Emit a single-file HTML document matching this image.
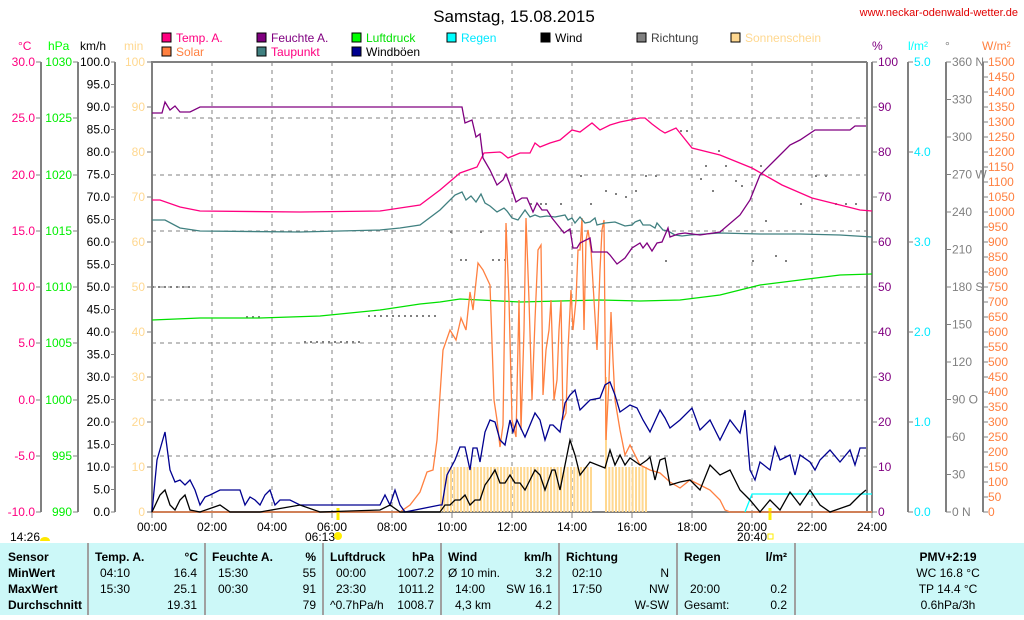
<!DOCTYPE html>
<html><head><meta charset="utf-8"><style>
body{margin:0;background:#fff;width:1024px;height:615px;overflow:hidden;font-family:"Liberation Sans",sans-serif}
svg text{font-family:"Liberation Sans",sans-serif}
</style></head><body>
<svg width="1024" height="615" xmlns="http://www.w3.org/2000/svg" font-size="11">
<text x="514" y="22" font-size="17" text-anchor="middle">Samstag, 15.08.2015</text>
<text x="1018" y="16" font-size="11" fill="#e00000" text-anchor="end">www.neckar-odenwald-wetter.de</text>
<g font-size="12">
<rect x="162" y="33" width="9" height="9" fill="#ff0080" stroke="#000"/><text x="176" y="42" fill="#ff0080">Temp. A.</text>
<rect x="257" y="33" width="9" height="9" fill="#800080" stroke="#000"/><text x="271" y="42" fill="#800080">Feuchte A.</text>
<rect x="352" y="33" width="9" height="9" fill="#00ff00" stroke="#000"/><text x="366" y="42" fill="#00e000">Luftdruck</text>
<rect x="447" y="33" width="9" height="9" fill="#00ffff" stroke="#000"/><text x="461" y="42" fill="#00e8ff">Regen</text>
<rect x="541" y="33" width="9" height="9" fill="#000" stroke="#000"/><text x="555" y="42">Wind</text>
<rect x="637" y="33" width="9" height="9" fill="#808080" stroke="#000"/><text x="651" y="42" fill="#404040">Richtung</text>
<rect x="731" y="33" width="9" height="9" fill="#ffd890" stroke="#000"/><text x="745" y="42" fill="#ffd890">Sonnenschein</text>
<rect x="162" y="47" width="9" height="9" fill="#ff8040" stroke="#000"/><text x="176" y="56" fill="#ff8040">Solar</text>
<rect x="257" y="47" width="9" height="9" fill="#408080" stroke="#000"/><text x="271" y="56" fill="#ff0080">Taupunkt</text>
<rect x="352" y="47" width="9" height="9" fill="#000090" stroke="#000"/><text x="366" y="56">Windböen</text>
</g>
<g font-size="12">
<text x="18" y="50" fill="#ff0080">°C</text>
<text x="48" y="50" fill="#00ff00">hPa</text>
<text x="80" y="50">km/h</text>
<text x="124" y="50" fill="#ffd890">min</text>
<text x="872" y="50" fill="#800080">%</text>
<text x="908" y="50" fill="#00ffff">l/m²</text>
<text x="945" y="50" fill="#808080">°</text>
<text x="982" y="50" fill="#ff8040">W/m²</text>
</g>
<g stroke="#808080" stroke-dasharray="4,4" stroke-width="1">
<line x1="152" y1="118" x2="870" y2="118"/><line x1="152" y1="175" x2="870" y2="175"/><line x1="152" y1="231" x2="870" y2="231"/><line x1="152" y1="287" x2="870" y2="287"/><line x1="152" y1="343" x2="870" y2="343"/><line x1="152" y1="400" x2="870" y2="400"/><line x1="152" y1="456" x2="870" y2="456"/>
<line x1="212" y1="62" x2="212" y2="512"/><line x1="272" y1="62" x2="272" y2="512"/><line x1="332" y1="62" x2="332" y2="512"/><line x1="392" y1="62" x2="392" y2="512"/><line x1="452" y1="62" x2="452" y2="512"/><line x1="512" y1="62" x2="512" y2="512"/><line x1="572" y1="62" x2="572" y2="512"/><line x1="632" y1="62" x2="632" y2="512"/><line x1="692" y1="62" x2="692" y2="512"/><line x1="752" y1="62" x2="752" y2="512"/><line x1="812" y1="62" x2="812" y2="512"/>
</g>
<g stroke="#808080" stroke-width="2" fill="none">
<line x1="41" y1="62" x2="41" y2="512"/><line x1="78" y1="62" x2="78" y2="512"/><line x1="115" y1="62" x2="115" y2="512"/>
<line x1="908" y1="62" x2="908" y2="512"/><line x1="946" y1="62" x2="946" y2="512"/><line x1="983" y1="62" x2="983" y2="512"/>
<path d="M152 62H867M152 512H872M152 61V513M867 62V512M872 62V513" stroke-width="2"/>
</g>
<g stroke="#808080" stroke-width="1">
<path d="M36 62h5M36 118h5M36 175h5M36 231h5M36 287h5M36 343h5M36 400h5M36 456h5M36 512h5M73 62h5M73 118h5M73 175h5M73 231h5M73 287h5M73 343h5M73 400h5M73 456h5M73 512h5
M111 62h4M111 84.5h4M111 107h4M111 129.5h4M111 152h4M111 174.5h4M111 197h4M111 219.5h4M111 242h4M111 264.5h4M111 287h4M111 309.5h4M111 332h4M111 354.5h4M111 377h4M111 399.5h4M111 422h4M111 444.5h4M111 467h4M111 489.5h4M111 512h4
M147 62h5M147 107h5M147 152h5M147 197h5M147 242h5M147 287h5M147 332h5M147 377h5M147 422h5M147 467h5M147 512h5
M872 62h5M872 107h5M872 152h5M872 197h5M872 242h5M872 287h5M872 332h5M872 377h5M872 422h5M872 467h5M872 512h5
M908 62h5M908 152h5M908 242h5M908 332h5M908 422h5M908 512h5
M946 62h5M946 99.5h5M946 137h5M946 174.5h5M946 212h5M946 249.5h5M946 287h5M946 324.5h5M946 362h5M946 399.5h5M946 437h5M946 474.5h5M946 512h5
M152 512v6M212 512v6M272 512v6M332 512v6M392 512v6M452 512v6M512 512v6M572 512v6M632 512v6M692 512v6M752 512v6M812 512v6M872 512v6"/>
</g>
<g text-anchor="end" font-size="12">
<g fill="#ff0080"><text x="35" y="66">30.0</text><text x="35" y="122">25.0</text><text x="35" y="179">20.0</text><text x="35" y="235">15.0</text><text x="35" y="291">10.0</text><text x="35" y="347">5.0</text><text x="35" y="404">0.0</text><text x="35" y="460">-5.0</text><text x="35" y="516">-10.0</text></g>
<g fill="#00ee00"><text x="72" y="66">1030</text><text x="72" y="122">1025</text><text x="72" y="179">1020</text><text x="72" y="235">1015</text><text x="72" y="291">1010</text><text x="72" y="347">1005</text><text x="72" y="404">1000</text><text x="72" y="460">995</text><text x="72" y="516">990</text></g>
<g fill="#000"><text x="110" y="66">100.0</text><text x="110" y="88.5">95.0</text><text x="110" y="111">90.0</text><text x="110" y="133.5">85.0</text><text x="110" y="156">80.0</text><text x="110" y="178.5">75.0</text><text x="110" y="201">70.0</text><text x="110" y="223.5">65.0</text><text x="110" y="246">60.0</text><text x="110" y="268.5">55.0</text><text x="110" y="291">50.0</text><text x="110" y="313.5">45.0</text><text x="110" y="336">40.0</text><text x="110" y="358.5">35.0</text><text x="110" y="381">30.0</text><text x="110" y="403.5">25.0</text><text x="110" y="426">20.0</text><text x="110" y="448.5">15.0</text><text x="110" y="471">10.0</text><text x="110" y="493.5">5.0</text><text x="110" y="516">0.0</text></g>
<g fill="#ffd890"><text x="145" y="66">100</text><text x="145" y="111">90</text><text x="145" y="156">80</text><text x="145" y="201">70</text><text x="145" y="246">60</text><text x="145" y="291">50</text><text x="145" y="336">40</text><text x="145" y="381">30</text><text x="145" y="426">20</text><text x="145" y="471">10</text><text x="145" y="516">0</text></g>
</g>
<g font-size="12">
<g fill="#800080"><text x="878" y="66">100</text><text x="878" y="111">90</text><text x="878" y="156">80</text><text x="878" y="201">70</text><text x="878" y="246">60</text><text x="878" y="291">50</text><text x="878" y="336">40</text><text x="878" y="381">30</text><text x="878" y="426">20</text><text x="878" y="471">10</text><text x="878" y="516">0</text></g>
<g fill="#00e8ff"><text x="914" y="66">5.0</text><text x="914" y="156">4.0</text><text x="914" y="246">3.0</text><text x="914" y="336">2.0</text><text x="914" y="426">1.0</text><text x="914" y="516">0.0</text></g>
<g fill="#808080"><text x="952" y="66">360 N</text><text x="952" y="103.5">330</text><text x="952" y="141">300</text><text x="952" y="178.5">270 W</text><text x="952" y="216">240</text><text x="952" y="253.5">210</text><text x="952" y="291">180 S</text><text x="952" y="328.5">150</text><text x="952" y="366">120</text><text x="952" y="403.5">90 O</text><text x="952" y="441">60</text><text x="952" y="478.5">30</text><text x="952" y="516">0 N</text></g>
</g>
<g fill="#ff8040" font-size="12">
<text x="988" y="66">1500</text><text x="988" y="81">1450</text><text x="988" y="96">1400</text><text x="988" y="111">1350</text><text x="988" y="126">1300</text><text x="988" y="141">1250</text><text x="988" y="156">1200</text><text x="988" y="171">1150</text><text x="988" y="186">1100</text><text x="988" y="201">1050</text><text x="988" y="216">1000</text><text x="988" y="231">950</text><text x="988" y="246">900</text><text x="988" y="261">850</text><text x="988" y="276">800</text><text x="988" y="291">750</text><text x="988" y="306">700</text><text x="988" y="321">650</text><text x="988" y="336">600</text><text x="988" y="351">550</text><text x="988" y="366">500</text><text x="988" y="381">450</text><text x="988" y="396">400</text><text x="988" y="411">350</text><text x="988" y="426">300</text><text x="988" y="441">250</text><text x="988" y="456">200</text><text x="988" y="471">150</text><text x="988" y="486">100</text><text x="988" y="501">50</text><text x="988" y="516">0</text>
</g>
<path stroke="#808080" d="M983 62h5M983 77h5M983 92h5M983 107h5M983 122h5M983 137h5M983 152h5M983 167h5M983 182h5M983 197h5M983 212h5M983 227h5M983 242h5M983 257h5M983 272h5M983 287h5M983 302h5M983 317h5M983 332h5M983 347h5M983 362h5M983 377h5M983 392h5M983 407h5M983 422h5M983 437h5M983 452h5M983 467h5M983 482h5M983 497h5M983 512h5"/>
<g text-anchor="middle" font-size="12">
<text x="152" y="531">00:00</text><text x="212" y="531">02:00</text><text x="272" y="531">04:00</text><text x="332" y="531">06:00</text><text x="392" y="531">08:00</text><text x="452" y="531">10:00</text><text x="512" y="531">12:00</text><text x="572" y="531">14:00</text><text x="632" y="531">16:00</text><text x="692" y="531">18:00</text><text x="752" y="531">20:00</text><text x="812" y="531">22:00</text><text x="872" y="531">24:00</text>
</g>
<text x="10" y="541" font-size="12">14:26</text><path d="M40 541a5 4 0 0 1 10 0z" fill="#ffe800"/>
<text x="305" y="541" font-size="12">06:13</text><circle cx="338" cy="536" r="4" fill="#ffee00"/>
<line x1="338" y1="508" x2="338" y2="520" stroke="#ffee00" stroke-width="3"/>
<text x="737" y="541" font-size="12">20:40</text><rect x="768" y="534" width="5" height="5" fill="none" stroke="#ffee00"/>
<line x1="770" y1="508" x2="770" y2="520" stroke="#ffee00" stroke-width="3"/>
<g stroke="#ffd890" stroke-width="2">
<path d="M441 512V467M444.3 512V467M447.6 512V467M451 512V467M454.3 512V467M457.6 512V467M461 512V467M464.3 512V467M467.6 512V467M471 512V467M474.3 512V467M477.6 512V467M481 512V467M484.3 512V467M487.6 512V467M491 512V467M494.3 512V467M497.6 512V467M501 512V467M504.3 512V467M507.6 512V467M511 512V467M514.3 512V467M517.6 512V467M521 512V467M524.3 512V467M527.6 512V467M531 512V467M534.3 512V467M537.6 512V467M541 512V467M544.3 512V467M547.6 512V467M551 512V467M554.3 512V467M557.6 512V467M561 512V467M564.3 512V467M567.6 512V467M571 512V467M574.3 512V467M577.6 512V467M581 512V467M584.3 512V467M587.6 512V467M591 512V467
M606 512V377M609.3 512V467M612.6 512V467M616 512V467M619.3 512V467M622.6 512V467M626 512V467M629.3 512V467M632.6 512V467M636 512V467M639.3 512V467M642.6 512V467M646 512V467"/>
</g>
<g fill="#808080">
<rect x="152" y="286" width="2" height="2"/><rect x="158" y="286" width="2" height="2"/><rect x="164" y="286" width="2" height="2"/><rect x="170" y="286" width="2" height="2"/><rect x="176" y="286" width="2" height="2"/><rect x="182" y="286" width="2" height="2"/><rect x="188" y="286" width="2" height="2"/>
<rect x="246" y="316" width="2" height="2"/><rect x="252" y="316" width="2" height="2"/><rect x="258" y="316" width="2" height="2"/>
<rect x="304" y="341" width="2" height="2"/><rect x="310" y="341" width="2" height="2"/><rect x="316" y="341" width="2" height="2"/><rect x="322" y="341" width="2" height="2"/><rect x="328" y="341" width="2" height="2"/><rect x="334" y="341" width="2" height="2"/><rect x="340" y="341" width="2" height="2"/><rect x="346" y="341" width="2" height="2"/><rect x="352" y="341" width="2" height="2"/><rect x="358" y="341" width="2" height="2"/>
<rect x="368" y="315" width="2" height="2"/><rect x="374" y="315" width="2" height="2"/><rect x="380" y="315" width="2" height="2"/><rect x="386" y="315" width="2" height="2"/><rect x="392" y="315" width="2" height="2"/><rect x="398" y="315" width="2" height="2"/><rect x="404" y="315" width="2" height="2"/><rect x="410" y="315" width="2" height="2"/><rect x="416" y="315" width="2" height="2"/><rect x="422" y="315" width="2" height="2"/><rect x="428" y="315" width="2" height="2"/><rect x="434" y="315" width="2" height="2"/>
<rect x="460" y="259" width="2" height="2"/><rect x="465" y="259" width="2" height="2"/><rect x="492" y="259" width="2" height="2"/><rect x="498" y="259" width="2" height="2"/><rect x="504" y="259" width="2" height="2"/>
<rect x="450" y="231" width="2" height="2"/><rect x="480" y="231" width="2" height="2"/><rect x="530" y="203" width="2" height="2"/><rect x="540" y="203" width="2" height="2"/><rect x="545" y="203" width="2" height="2"/><rect x="560" y="203" width="2" height="2"/>
<rect x="580" y="175" width="2" height="2"/><rect x="590" y="203" width="2" height="2"/><rect x="605" y="190" width="2" height="2"/><rect x="615" y="193" width="2" height="2"/><rect x="625" y="196" width="2" height="2"/><rect x="635" y="190" width="2" height="2"/><rect x="645" y="175" width="2" height="2"/><rect x="655" y="175" width="2" height="2"/><rect x="665" y="260" width="2" height="2"/><rect x="680" y="130" width="2" height="2"/><rect x="686" y="130" width="2" height="2"/><rect x="700" y="178" width="2" height="2"/><rect x="705" y="165" width="2" height="2"/><rect x="712" y="190" width="2" height="2"/><rect x="718" y="150" width="2" height="2"/><rect x="725" y="165" width="2" height="2"/><rect x="735" y="180" width="2" height="2"/><rect x="741" y="185" width="2" height="2"/><rect x="752" y="260" width="2" height="2"/><rect x="760" y="165" width="2" height="2"/><rect x="765" y="220" width="2" height="2"/><rect x="775" y="255" width="2" height="2"/><rect x="785" y="260" width="2" height="2"/><rect x="800" y="203" width="2" height="2"/><rect x="815" y="175" width="2" height="2"/><rect x="825" y="175" width="2" height="2"/><rect x="835" y="203" width="2" height="2"/><rect x="845" y="203" width="2" height="2"/><rect x="855" y="203" width="2" height="2"/>
</g>
<g fill="none" stroke-width="1.3">
<polyline stroke="#00e000" points="152,320 200,318 260,318 320,316 380,310 420,304 440,302 460,299 480,300 520,302 560,301 600,300 640,301 680,300 720,295 760,285 800,280 840,275 872,274"/>
<polyline stroke="#ff8040" points="152,512 400,512 410,505 420,492 427,472 433,470 437,440 443,350 450,330 456,340 461,318 466,330 470,292 473,310 478,263 483,270 490,285 494,400 497,420 500,447 503,425 506,223 509,300 512,420 516,437 519,300 521,430 524,330 526,218 529,300 532,400 535,320 538,250 541,245 543,395 546,350 549,330 551,300 554,400 557,380 559,330 561,300 563,420 566,413 568,350 571,290 573,330 576,300 578,250 580,250 582,218 584,330 586,240 588,230 591,250 594,300 597,350 600,270 602,230 604,220 606,440 609,380 611,312 613,360 615,400 620,430 625,455 630,445 640,465 650,470 660,473 670,482 680,488 690,480 700,485 710,490 720,500 725,510 730,512 872,512"/>
<polyline stroke="#00ffff" points="745,512 752,494 872,494"/>
<polyline stroke="#408080" points="152,220 165,220 180,228 200,231 300,232 380,230 400,228 420,225 440,210 455,195 462,192 466,200 471,196 476,202 481,194 485,203 490,206 497,212 504,208 507,211 512,218 518,220 525,210 530,217 535,215 540,217 547,216 555,217 565,215 568,220 572,218 575,223 580,217 585,223 590,222 595,218 597,225 605,223 615,222 625,226 632,225 635,222 640,220 643,225 650,225 655,228 657,223 663,230 668,231 675,235 682,236 690,235 720,233 760,234 800,234 840,235 872,237"/>
<polyline stroke="#ff0080" points="152,200 160,200 180,207 200,211 300,212 380,211 400,208 420,205 440,190 460,173 477,167 484,153 500,152 502,153 508,158 520,153 530,153 535,143 540,147 550,143 560,140 572,130 580,132 592,123 600,130 610,125 620,122 630,120 640,118 645,118 652,124 660,130 665,133 676,128 692,148 720,155 752,168 782,185 812,198 840,205 860,210 872,211"/>
<polyline stroke="#800080" points="152,113 162,113 165,102 170,110 175,106 180,112 190,112 200,107 462,107 465,123 472,120 476,137 480,134 483,158 490,170 497,185 503,180 506,174 512,190 516,202 522,198 527,198 533,212 537,203 542,210 547,210 552,218 560,228 564,233 570,229 573,248 577,248 580,243 590,238 592,252 607,252 610,255 617,264 625,258 632,248 640,243 643,248 647,243 652,251 657,243 662,242 668,228 670,237 678,234 685,233 700,235 720,232 740,215 750,200 760,175 775,160 790,145 800,140 815,130 830,130 850,130 855,126 866,126"/>
<polyline stroke="#000090" points="152,512 157,460 165,432 170,470 175,482 180,480 185,485 190,480 195,490 200,505 205,497 210,495 220,490 230,490 240,490 245,505 250,497 255,500 260,505 265,495 270,490 275,505 280,500 290,500 300,505 380,505 385,495 390,505 395,490 400,505 405,512 440,505 442,505 447,475 455,460 460,447 465,447 470,470 473,448 477,448 480,462 485,432 490,420 495,422 500,440 505,445 510,420 513,432 517,420 525,437 535,413 540,420 545,440 550,425 553,425 560,432 565,403 570,395 575,390 580,410 585,405 590,400 600,398 605,385 610,382 615,395 620,412 630,405 637,408 643,420 650,432 660,410 665,418 670,428 680,420 692,408 700,430 710,420 720,440 730,420 740,433 745,410 750,470 755,480 760,462 770,470 775,447 780,460 790,455 795,475 800,455 810,462 815,470 820,460 830,450 840,462 850,450 855,465 860,448 866,448"/>
<polyline stroke="#000" points="152,512 160,495 165,490 170,505 175,510 180,500 185,495 190,510 200,512 220,505 230,512 260,512 300,505 320,512 380,510 390,505 400,512 440,512 445,505 450,505 455,500 460,500 465,495 470,505 475,500 480,500 485,485 490,478 495,470 500,483 505,483 510,475 515,483 520,483 525,490 535,470 540,475 545,490 552,470 555,470 560,490 570,440 575,455 580,475 590,462 605,468 610,450 615,465 620,455 625,465 630,458 640,465 647,460 650,457 655,480 660,460 665,458 670,485 680,482 690,480 700,490 710,465 720,475 730,470 740,490 750,500 760,512 770,500 780,510 790,492 800,505 810,490 820,505 830,512 850,505 860,495 866,490"/>
</g>
<rect x="0" y="543" width="1024" height="72" fill="#ccf8f8"/>
<g stroke="#a0a0a0" stroke-width="2">
<line x1="88" y1="543" x2="88" y2="615"/><line x1="205" y1="543" x2="205" y2="615"/><line x1="323" y1="543" x2="323" y2="615"/><line x1="441" y1="543" x2="441" y2="615"/><line x1="559" y1="543" x2="559" y2="615"/><line x1="677" y1="543" x2="677" y2="615"/><line x1="795" y1="543" x2="795" y2="615"/>
</g>
<g font-size="12" font-weight="bold">
<text x="8" y="561">Sensor</text><text x="8" y="577">MinWert</text><text x="8" y="593">MaxWert</text><text x="8" y="609">Durchschnitt</text>
<text x="95" y="561">Temp. A.</text><text x="198" y="561" text-anchor="end">°C</text>
<text x="212" y="561">Feuchte A.</text><text x="316" y="561" text-anchor="end">%</text>
<text x="330" y="561">Luftdruck</text><text x="434" y="561" text-anchor="end">hPa</text>
<text x="448" y="561">Wind</text><text x="552" y="561" text-anchor="end">km/h</text>
<text x="566" y="561">Richtung</text>
<text x="684" y="561">Regen</text><text x="787" y="561" text-anchor="end">l/m²</text>
<text x="948" y="561" text-anchor="middle">PMV+2:19</text>
</g>
<g font-size="12">
<text x="100" y="577">04:10</text><text x="100" y="593">15:30</text>
<text x="218" y="577">15:30</text><text x="218" y="593">00:30</text>
<text x="336" y="577">00:00</text><text x="336" y="593">23:30</text><text x="330" y="609">^0.7hPa/h</text>
<text x="448" y="577">Ø 10 min.</text><text x="455" y="593">14:00</text><text x="455" y="609">4,3 km</text>
<text x="572" y="577">02:10</text><text x="572" y="593">17:50</text>
<text x="690" y="593">20:00</text><text x="684" y="609">Gesamt:</text>
<g text-anchor="end">
<text x="197" y="577">16.4</text><text x="197" y="593">25.1</text><text x="197" y="609">19.31</text>
<text x="316" y="577">55</text><text x="316" y="593">91</text><text x="316" y="609">79</text>
<text x="434" y="577">1007.2</text><text x="434" y="593">1011.2</text><text x="434" y="609">1008.7</text>
<text x="552" y="577">3.2</text><text x="552" y="593">SW 16.1</text><text x="552" y="609">4.2</text>
<text x="669" y="577">N</text><text x="669" y="593">NW</text><text x="669" y="609">W-SW</text>
<text x="787" y="593">0.2</text><text x="787" y="609">0.2</text>
</g>
<g text-anchor="middle"><text x="948" y="577">WC 16.8 °C</text><text x="948" y="593">TP 14.4 °C</text><text x="948" y="609">0.6hPa/3h</text></g>
</g>
</svg>
</body></html>
